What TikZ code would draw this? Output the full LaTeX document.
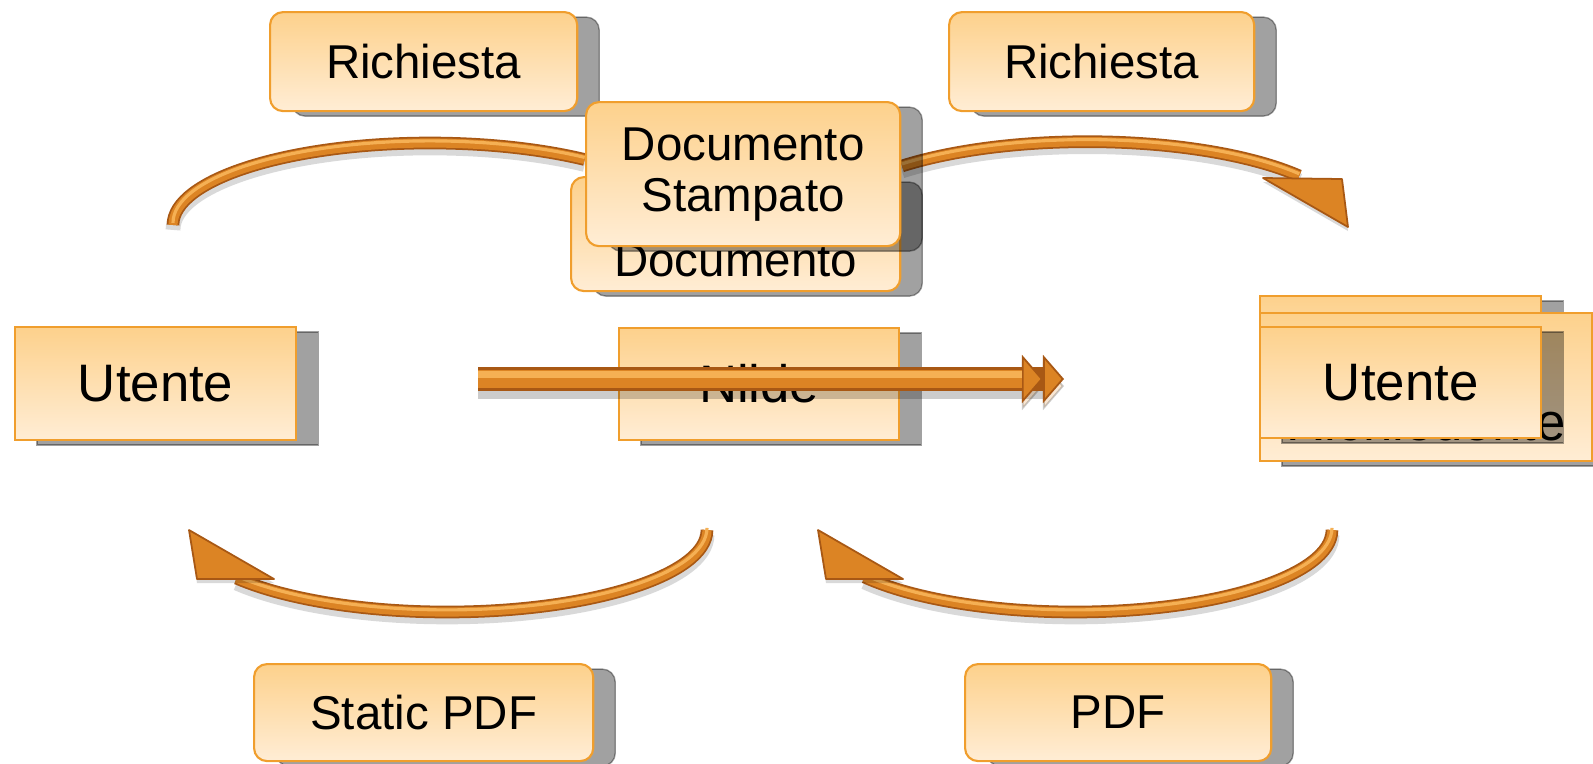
\documentclass[tikz,border=0pt]{standalone}
\usepackage{fontspec}
\setmainfont{Liberation Sans}
\usetikzlibrary{arrows.meta,shadows}

\definecolor{boxtop}{RGB}{253,209,140}
\definecolor{boxbot}{RGB}{255,237,213}
\definecolor{boxedge}{RGB}{240,158,45}
\definecolor{tubedark}{RGB}{168,88,20}
\definecolor{tubemid}{RGB}{220,132,36}
\definecolor{tubelight}{RGB}{245,176,84}

\begin{document}
\begin{tikzpicture}[x=0.01cm, y=0.01cm,
    scatola/.style={draw=boxedge, line width=0.6pt, top color=boxtop,
        bottom color=boxbot, inner sep=0pt, anchor=north west, align=center,
        font=\fontsize{15}{16}\selectfont,
        drop shadow={shadow xshift=0.22cm, shadow yshift=-0.05cm,
            fill=black, draw=black, line width=0.4pt, opacity=0.37}},
    etichetta/.style={scatola, rounded corners=0.13cm,
        font=\fontsize{13.5}{14.5}\selectfont},
    tubo/.style={draw=tubedark, line width=3.6pt,
        preaction={draw=black, opacity=0.15, line width=4.2pt,
            transform canvas={yshift=-1.4pt}},
        postaction={draw=tubemid, line width=2.6pt},
        postaction={draw=tubelight, line width=0.9pt,
            transform canvas={yshift=0.6pt}}},
    punta/.style={fill=tubemid, draw=tubedark, line width=0.5pt, line join=round,
        drop shadow={shadow xshift=0pt, shadow yshift=-0.04cm, opacity=0.15, fill=black}},
    freccia/.style={draw=tubedark, line width=7pt,
        -{Triangle[length=0.21cm, width=0.48cm, fill=tubemid, line width=0.5pt]
          Triangle[length=0.21cm, width=0.48cm, fill=tubemid, line width=0.5pt]},
        preaction={draw=black, opacity=0.2, line width=7.6pt,
            transform canvas={yshift=-2pt}},
        postaction={draw=tubemid, line width=5.2pt, -, shorten >=0.42cm},
        postaction={draw=tubelight, line width=2pt, -, shorten >=0.42cm,
            transform canvas={yshift=1.4pt}}},
]
    \useasboundingbox (0,0) rectangle (1593,-763);

    % 1. Archi superiori (sotto le scatole)
    \coordinate (a1) at (173,-225);
    \coordinate (a2) at (902,-166);
    \coordinate (t2) at (1348,-227);
    \draw[tubo] (a1) arc[start angle=180, end angle=53, x radius=257, y radius=82];
    \draw[tubo] (a2) arc[start angle=135, end angle=36, x radius=262, y radius=83];
    \path[punta] (t2) -- ++(-85,49) -- ++(79,-1) -- cycle;

    % 2. Etichette e scatole in alto e al centro
    \node[etichetta, minimum width=3.07cm, minimum height=0.99cm] (ric1) at (269,-11) {Richiesta};
    \node[etichetta, minimum width=3.05cm, minimum height=0.99cm] (ric2) at (948,-11) {Richiesta};
    \node[etichetta, minimum width=3.29cm, minimum height=1.14cm,
        text height=27pt, text depth=3pt] (doc) at (570,-176) {Documento};
    \node[etichetta, minimum width=3.14cm, minimum height=1.44cm] (docst) at (585,-101) {Documento\\Stampato};
    \node[scatola, minimum width=2.81cm, minimum height=1.13cm] (ute1) at (14,-326) {Utente};
    \node[scatola, minimum width=2.80cm, minimum height=1.12cm] (nilde) at (618,-327) {Nilde};

    % 3. Freccia diritta
    \coordinate (f0) at (478,-379);
    \coordinate (f1) at (1064,-379);
    \draw[freccia] (f0) -- (f1);

    % 4. Pila a destra
    \node[scatola, minimum width=2.81cm, minimum height=1.11cm] (utA) at (1259,-295) {};
    \node[scatola, minimum width=3.32cm, minimum height=1.48cm,
        text height=33.7pt, text depth=3.5pt] (utB) at (1259,-312) {Richiedente};
    \node[scatola, minimum width=2.81cm, minimum height=1.11cm] (utC) at (1259,-326) {Utente};

    % 5. Archi inferiori
    \coordinate (b1) at (707,-530);
    \coordinate (b2) at (1332,-530);
    \coordinate (t3) at (189,-530);
    \coordinate (t4) at (818,-530);
    \draw[tubo] (b1) arc[start angle=0, end angle=-144, x radius=260, y radius=82];
    \draw[tubo] (b2) arc[start angle=0, end angle=-145, x radius=257, y radius=82];
    \path[punta] (t3) -- ++(8,-49) -- ++(77,0) -- cycle;
    \path[punta] (t4) -- ++(8,-49) -- ++(77,0) -- cycle;

    % 6. Etichette in basso
    \node[etichetta, minimum width=3.39cm, minimum height=0.97cm] (spdf) at (253,-663) {Static PDF};
    \node[etichetta, minimum width=3.06cm, minimum height=0.97cm] (pdf) at (964,-663) {PDF};
\end{tikzpicture}
\end{document}
